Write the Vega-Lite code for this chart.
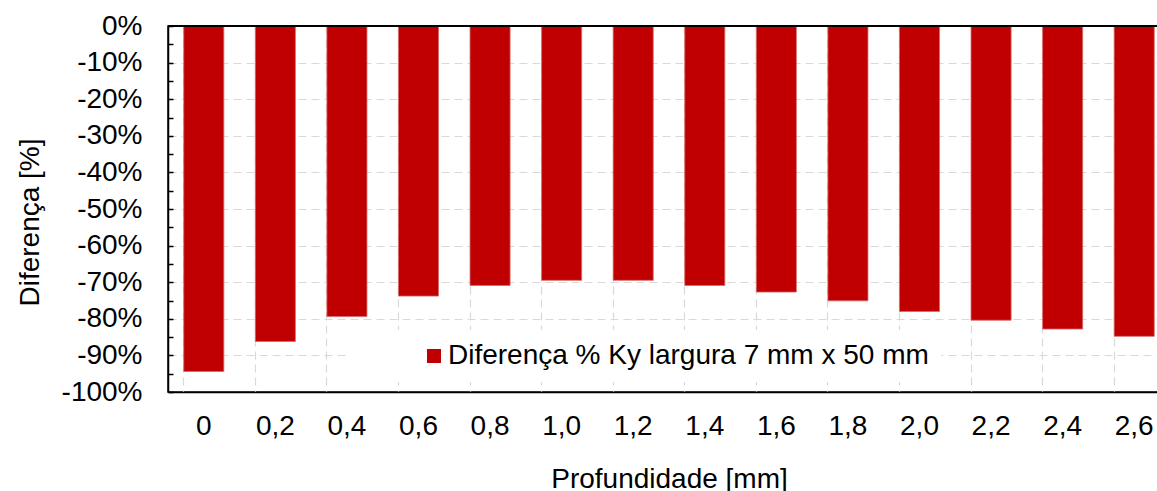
{
  "$schema": "https://vega.github.io/schema/vega-lite/v6.json",
  "autosize": "none",
  "padding": {"left": 168, "top": 26, "right": 0, "bottom": 99},
  "width": 1002,
  "height": 366,
  "background": "white",
  "config": {
    "font": "Liberation Sans",
    "view": {"stroke": "#000000", "strokeWidth": 1.5},
    "axis": {"labelFont": "Liberation Sans", "titleFont": "Liberation Sans", "labelColor": "#000000", "titleColor": "#000000", "titleFontWeight": "normal"}
  },
  "data": {
    "values": [
      {"prof": "0", "dif": -94.4, "serie": "Diferença % Ky largura 7 mm x 50 mm"},
      {"prof": "0,2", "dif": -86.2, "serie": "Diferença % Ky largura 7 mm x 50 mm"},
      {"prof": "0,4", "dif": -79.4, "serie": "Diferença % Ky largura 7 mm x 50 mm"},
      {"prof": "0,6", "dif": -73.8, "serie": "Diferença % Ky largura 7 mm x 50 mm"},
      {"prof": "0,8", "dif": -70.9, "serie": "Diferença % Ky largura 7 mm x 50 mm"},
      {"prof": "1,0", "dif": -69.5, "serie": "Diferença % Ky largura 7 mm x 50 mm"},
      {"prof": "1,2", "dif": -69.5, "serie": "Diferença % Ky largura 7 mm x 50 mm"},
      {"prof": "1,4", "dif": -70.9, "serie": "Diferença % Ky largura 7 mm x 50 mm"},
      {"prof": "1,6", "dif": -72.7, "serie": "Diferença % Ky largura 7 mm x 50 mm"},
      {"prof": "1,8", "dif": -75.1, "serie": "Diferença % Ky largura 7 mm x 50 mm"},
      {"prof": "2,0", "dif": -78.0, "serie": "Diferença % Ky largura 7 mm x 50 mm"},
      {"prof": "2,2", "dif": -80.4, "serie": "Diferença % Ky largura 7 mm x 50 mm"},
      {"prof": "2,4", "dif": -82.8, "serie": "Diferença % Ky largura 7 mm x 50 mm"},
      {"prof": "2,6", "dif": -84.8, "serie": "Diferença % Ky largura 7 mm x 50 mm"}
    ]
  },
  "layer": [
    {
      "mark": {"type": "bar", "color": "#C00000", "stroke": "#d86a6a", "strokeWidth": 0.8},
      "encoding": {
        "x": {
          "field": "prof", "type": "ordinal", "sort": null,
          "scale": {"paddingInner": 0.44, "paddingOuter": 0.22},
          "axis": {
            "title": "Profundidade [mm]", "titleFontSize": 28, "titlePadding": 25,
            "labelFontSize": 28, "labelAngle": 0, "labelPadding": 20,
            "ticks": false, "domain": true, "domainColor": "#000000", "domainWidth": 1.5,
            "grid": true, "bandPosition": 0, "gridColor": "#d9d9d9", "gridDash": [8, 5], "gridWidth": 1.2
          }
        },
        "y": {
          "field": "dif", "type": "quantitative",
          "scale": {"domain": [-100, 0], "nice": false},
          "axis": {
            "orient": "left",
            "title": "Diferença [%]", "titleFontSize": 28, "titlePadding": 17, "titleY": 196,
            "values": [0, -10, -20, -30, -40, -50, -60, -70, -80, -90, -100],
            "labelExpr": "datum.value + '%'",
            "labelOverlap": false,
            "labelFontSize": 28, "labelPadding": 26,
            "ticks": false, "tickSize": 0,
            "domain": true, "domainColor": "#000000", "domainWidth": 1.5,
            "grid": true, "gridColor": "#d9d9d9", "gridDash": [8, 5], "gridWidth": 1.2
          }
        },
        "color": {
          "field": "serie", "type": "nominal",
          "scale": {"range": ["#C00000"]},
          "legend": {
            "title": null, "orient": "none", "legendX": 180, "legendY": 304,
            "fillColor": "white", "padding": 12,
            "symbolType": "square", "symbolSize": 196, "symbolOffset": 60, "symbolStrokeWidth": 0,
            "labelFontSize": 28, "labelFont": "Liberation Sans", "labelColor": "#000000", "labelOffset": 0, "labelLimit": 1000,
            "labelExpr": "datum.label + '        '"
          }
        }
      }
    },
    {
      "mark": {"type": "rule", "color": "#000000", "strokeWidth": 1.5},
      "encoding": {
        "y": {
          "datum": 0,
          "scale": {"domain": [-100, 0], "nice": false},
          "axis": {
            "orient": "left", "offset": -5,
            "values": [0, -5, -10, -15, -20, -25, -30, -35, -40, -45, -50, -55, -60, -65, -70, -75, -80, -85, -90, -95, -100],
            "labels": false, "title": null, "grid": false, "domain": false,
            "ticks": true, "tickSize": 5, "tickColor": "#000000", "tickWidth": 1.5
          }
        }
      }
    }
  ],
  "resolve": {"axis": {"y": "independent"}}
}
